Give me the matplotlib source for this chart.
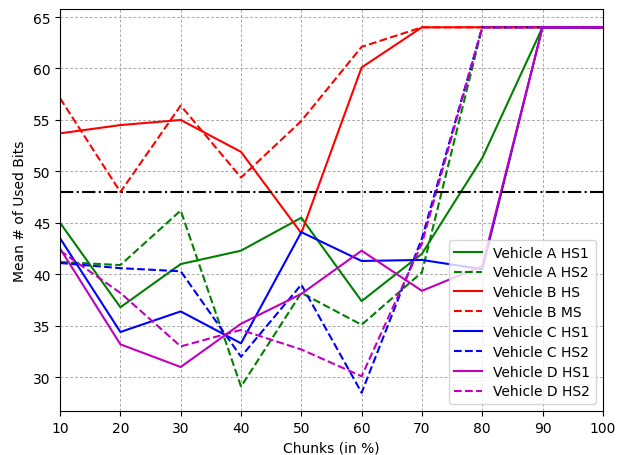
import matplotlib
matplotlib.use("Agg")
from matplotlib import pyplot as plt

chunks = [10, 20, 30, 40, 50, 60, 70, 80, 90, 100]

a_hs1 = [45.0, 36.8, 41.0, 42.3, 45.5, 37.4, 42.0, 51.3, 64.0, 64.0]
a_hs2 = [41.2, 40.9, 46.2, 29.1, 38.2, 35.1, 40.2, 64.0, 64.0, 64.0]
b_hs = [53.7, 54.5, 55.0, 51.9, 44.0, 60.1, 64.0, 64.0, 64.0, 64.0]
b_ms = [57.1, 48.0, 56.4, 49.4, 54.9, 62.1, 64.0, 64.0, 64.0, 64.0]
c_hs1 = [43.5, 34.4, 36.4, 33.3, 44.1, 41.3, 41.4, 40.5, 64.0, 64.0]
c_hs2 = [41.1, 40.6, 40.3, 32.0, 39.0, 28.5, 43.5, 64.0, 64.0, 64.0]
d_hs1 = [42.5, 33.2, 31.0, 35.2, 38.1, 42.3, 38.4, 40.8, 64.0, 64.0]
d_hs2 = [42.3, 38.2, 33.0, 34.6, 32.7, 30.1, 43.0, 64.0, 64.0, 64.0]
threshold = 48

fig = plt.figure(figsize=(6.26, 4.56), dpi=100)
ax = fig.add_axes([0.096, 0.0965, 0.867, 0.8815])

ax.plot(chunks, a_hs1, 'g-', label='Vehicle A HS1')
ax.plot(chunks, a_hs2, 'g--', label='Vehicle A HS2')
ax.plot(chunks, b_hs, 'r-', label='Vehicle B HS')
ax.plot(chunks, b_ms, 'r--', label='Vehicle B MS')
ax.plot(chunks, c_hs1, 'b-', label='Vehicle C HS1')
ax.plot(chunks, c_hs2, 'b--', label='Vehicle C HS2')
ax.plot(chunks, d_hs1, 'm-', label='Vehicle D HS1')
ax.plot(chunks, d_hs2, 'm--', label='Vehicle D HS2')
ax.axhline(threshold, color='k', linestyle='-.')

ax.set_xlim(10, 100)
ax.set_xticks(chunks)
ax.grid(True, color='#aaaaaa', linestyle=(0, (3, 2)), linewidth=0.7)
ax.set_xlabel('Chunks (in %)')
ax.set_ylabel('Mean # of Used Bits')
ax.legend(loc='lower right', labelspacing=0.42)

fig.savefig('out.png', dpi=100)
